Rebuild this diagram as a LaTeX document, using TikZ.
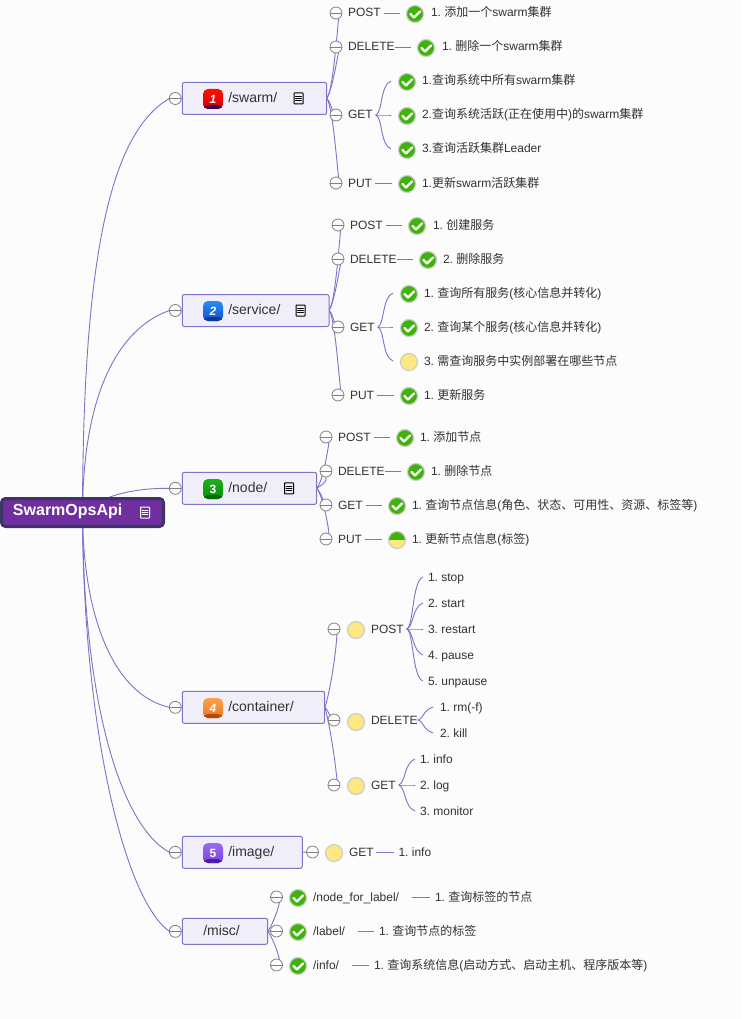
\documentclass[tikz,border=0pt]{standalone}
\usepackage{fontspec}
\setmainfont{Liberation Sans}
\newfontfamily\cjk{Noto Sans CJK SC}
\newcommand\zh[1]{{\cjk #1}}
\usetikzlibrary{backgrounds}

\definecolor{linkcol}{RGB}{125,115,200}
\definecolor{boxfill}{RGB}{240,238,248}
\definecolor{paper}{RGB}{252,252,252}
\definecolor{okgreen}{RGB}{62,179,10}
\definecolor{todoyellow}{RGB}{255,231,130}
\definecolor{halo}{RGB}{205,205,205}
\definecolor{inkcol}{RGB}{50,50,50}
\definecolor{rootline}{RGB}{60,52,100}
\definecolor{rootfill}{RGB}{112,47,158}

\begin{document}
\begin{tikzpicture}
  [
    x=1pt, y=-1pt,
    line cap=round, line join=round,
    font=\fontsize{12}{14}\selectfont\frenchspacing,
    link/.style={draw=linkcol, line width=.9pt},
    txt/.style={anchor=west, inner sep=0pt, outer sep=0pt, text height=10pt, text depth=2pt, text=inkcol},
    topic/.style={draw=linkcol, fill=boxfill, line width=1pt, rounded corners=2pt, anchor=west,
      inner sep=0pt, outer sep=0pt, text height=10pt, text depth=2pt, text=inkcol,
      font=\fontsize{14}{16}\selectfont},
    rootbox/.style={draw=rootline, fill=rootfill, line width=3pt, rounded corners=4pt,
      inner sep=0pt, outer sep=0pt, minimum width=162pt, minimum height=28pt,
      text height=10pt, text depth=4pt, text=white, font=\fontsize{16}{18}\selectfont\bfseries},
    collapse/.style={circle, draw=gray, fill=paper, line width=.8pt, minimum size=12pt,
      inner sep=0pt, outer sep=0pt,
      path picture={\draw[gray, line width=.8pt] (path picture bounding box.west) -- (path picture bounding box.east);}},
    status/.style={circle, draw=halo, line width=1.2pt, minimum size=17pt, inner sep=0pt, outer sep=0pt},
    check/.style={status, fill=okgreen,
      path picture={\draw[white, line width=2.4pt] ([xshift=-4.5pt]path picture bounding box.center) -- ++(3.5,3.5) -- ++(6,-6);}},
    todo/.style={status, fill=todoyellow},
    half/.style={status, fill=todoyellow,
      path picture={\fill[okgreen] (path picture bounding box.north west) rectangle (path picture bounding box.east);}},
    note/.style={draw=#1, line width=1pt, rounded corners=.5pt, minimum width=9pt, minimum height=11pt,
      inner sep=0pt, outer sep=0pt,
      path picture={\foreach \k in {-2.2,0,2.2} \draw[#1, line width=.8pt] ([xshift=-3pt,yshift=\k pt]path picture bounding box.center) -- ++(6,0);}},
    badge/.style n args={3}{rounded corners=5pt, minimum size=20pt, inner sep=0pt, outer sep=0pt,
      top color=#1, bottom color=#2, text=white, font=\fontsize{12}{14}\selectfont\bfseries,
      path picture={\fill[#3] ([yshift=4pt]path picture bounding box.south west) rectangle (path picture bounding box.south east);}},
  ]

\useasboundingbox (0,0) rectangle (742,1019);

% topic box: name, y, width, height, left pad, text
\newcommand\topicbox[6]{
  \node[topic, minimum height=#4pt] (#1) at (182.3,#2) {\makebox[#3pt][l]{\hspace*{#5pt}#6}};
  \node[collapse] (#1c) at (175.3,#2) {};
}
% method row: name, circle x, text x, y, text
\newcommand\method[5]{
  \node[collapse] (#1c) at (#2,#4) {};
  \node[txt] (#1) at (#3,#4) {#5};
}
% result row: name, icon style, icon x, y, text x, text (icon sits 1 lower)
\newcommand\hit[6]{
  \node[#2] (#1i) at (#3,#4+1) {};
  \node[txt] (#1) at (#5,#4) {#6};
}
\newcommand\swoop[4]{\draw[link] (#1) .. controls +(#3) and +(#4) .. (#2);}
\newcommand\fork[3]{\draw[link] (#1) .. controls +(7,#3*2) and +(-11,#3*-4) .. (#2);}
\newcommand\stem[4]{\draw[link, shorten <=#3pt, shorten >=#4pt] (#1.east) -- (#1.east -| #2.west);}

\node[rootbox] (root) at (82.5,512.5) {\makebox[162pt][l]{\hspace*{11.5pt}SwarmOpsApi}};
\node[note=white] (rootnote) at (145,512.5) {};

% /swarm/
\topicbox{swarm}{98.5}{144.4}{32}{46}{/swarm/}
\node[badge={red!90!orange}{red!85!black}{red!45!blue!60!black}] (swarmbadge) at (213,99) {\itshape 1};
\node[note=black] (swarmnote) at (298.5,98.5) {};
\method{swpost}{336}{348}{13}{POST}
\method{swdel}{336}{348}{47}{DELETE}
\method{swget}{336}{348}{115}{GET}
\method{swput}{336}{348}{183}{PUT}
\hit{swadd}{check}{415}{13}{431}{1. \zh{添加一个}swarm\zh{集群}}
\hit{swrm}{check}{426}{47}{442}{1. \zh{删除一个}swarm\zh{集群}}
\hit{swall}{check}{407}{81}{422}{1.\zh{查询系统中所有}swarm\zh{集群}}
\hit{swact}{check}{407}{115}{422}{2.\zh{查询系统活跃}(\zh{正在使用中})\zh{的}swarm\zh{集群}}
\hit{swlead}{check}{407}{149}{422}{3.\zh{查询活跃集群}Leader}
\hit{swset}{check}{407}{183}{422}{1.\zh{更新}swarm\zh{活跃集群}}

% /service/
\topicbox{service}{310.5}{146.7}{32}{46}{/service/}
\definecolor{bluetop}{RGB}{42,140,240}
\definecolor{bluelow}{RGB}{16,80,208}
\definecolor{blueband}{RGB}{10,58,160}
\node[badge={bluetop}{bluelow}{blueband}] (servicebadge) at (213,311) {\itshape 2};
\node[note=black] (servicenote) at (300.5,310.5) {};
\method{sepost}{338}{350}{225}{POST}
\method{sedel}{338}{350}{259}{DELETE}
\method{seget}{338}{350}{327}{GET}
\method{seput}{338}{350}{395}{PUT}
\hit{seadd}{check}{417}{225}{433}{1. \zh{创建服务}}
\hit{serm}{check}{428}{259}{443}{2. \zh{删除服务}}
\hit{seall}{check}{409}{293}{424}{1. \zh{查询所有服务}(\zh{核心信息并转化})}
\hit{seone}{check}{409}{327}{424}{2. \zh{查询某个服务}(\zh{核心信息并转化})}
\hit{sewhere}{todo}{409}{361}{424}{3. \zh{需查询服务中实例部署在哪些节点}}
\hit{seset}{check}{409}{395}{424}{1. \zh{更新服务}}

% /node/
\topicbox{node}{488.3}{134.4}{32}{46}{/node/}
\definecolor{greentop}{RGB}{31,174,31}
\definecolor{greenlow}{RGB}{10,143,10}
\definecolor{greenband}{RGB}{5,107,5}
\node[badge={greentop}{greenlow}{greenband}] (nodebadge) at (213,489) {3};
\node[note=black] (nodenote) at (289,488.3) {};
\method{nopost}{326}{338}{437}{POST}
\method{nodel}{326}{338}{471}{DELETE}
\method{noget}{326}{338}{505}{GET}
\method{noput}{326}{338}{539}{PUT}
\hit{noadd}{check}{405}{437}{420}{1. \zh{添加节点}}
\hit{norm}{check}{416}{471}{431}{1. \zh{删除节点}}
\hit{noinfo}{check}{397}{505}{412}{1. \zh{查询节点信息}(\zh{角色、状态、可用性、资源、标签等})}
\hit{noset}{half}{397}{539}{412}{1. \zh{更新节点信息}(\zh{标签})}

% /container/
\topicbox{container}{707.3}{142.4}{32}{46}{/container/}
\definecolor{orangetop}{RGB}{255,160,74}
\definecolor{orangelow}{RGB}{232,120,32}
\definecolor{orangeband}{RGB}{176,76,8}
\node[badge={orangetop}{orangelow}{orangeband}] (containerbadge) at (213,708) {\itshape 4};
\method{copost}{334}{371}{629}{POST}
\method{codel}{334}{371}{720}{DELETE}
\method{coget}{334}{371}{785}{GET}
\node[todo] (copostv) at (356,630) {};
\node[todo] (codelv) at (356,722) {};
\node[todo] (cogetv) at (356,786) {};
\node[txt] (costop) at (428,577) {1. stop};
\node[txt] (costart) at (428,603) {2. start};
\node[txt] (corestart) at (428,629) {3. restart};
\node[txt] (copause) at (428,655) {4. pause};
\node[txt] (counpause) at (428,681) {5. unpause};
\node[txt] (corm) at (440,707) {1. rm(-f)};
\node[txt] (cokill) at (440,733) {2. kill};
\node[txt] (coinfo) at (420,759) {1. info};
\node[txt] (colog) at (420,785) {2. log};
\node[txt] (comon) at (420,811) {3. monitor};

% /image/
\topicbox{image}{852.3}{120}{32}{46}{/image/}
\definecolor{purpletop}{RGB}{154,108,240}
\definecolor{purplelow}{RGB}{122,64,224}
\definecolor{purpleband}{RGB}{74,29,176}
\node[badge={purpletop}{purplelow}{purpleband}] (imagebadge) at (213,853) {5};
\method{imget}{312.5}{349}{852}{GET}
\node[todo] (imgetv) at (334,853) {};
\node[txt] (iminfo) at (398.5,852) {1. info};

% /misc/
\topicbox{misc}{931.3}{85.4}{26}{21}{/misc/}
\method{minode}{276.5}{313}{897}{/node\_for\_label/}
\method{milabel}{276.5}{313}{931}{/label/}
\method{miinfo}{276.5}{313}{965}{/info/}
\node[check] (minodev) at (298,898) {};
\node[check] (milabelv) at (298,932) {};
\node[check] (miinfov) at (298,966) {};
\node[txt] (minodeq) at (435,897) {1. \zh{查询标签的节点}};
\node[txt] (milabelq) at (379,931) {1. \zh{查询节点的标签}};
\node[txt] (miinfoq) at (374,965) {1. \zh{查询系统信息}(\zh{启动方式、启动主机、程序版本等})};

\begin{scope}[on background layer]
  \fill[paper] (0,0) rectangle (742,1019);

  % trunk
  \draw[link] (root.center) .. controls (83,250) and (112,132) .. (swarmc.west);
  \draw[link] (root.center) .. controls (83,400) and (115,330) .. (servicec.west);
  \draw[link] (root.center) .. controls (100,497) and (130,488) .. (nodec.west);
  \draw[link] (root.center) .. controls (83,620) and (115,695) .. (containerc.west);
  \draw[link] (root.center) .. controls (83,700) and (120,825) .. (imagec.west);
  \draw[link] (root.center) .. controls (83,730) and (125,900) .. (miscc.west);

  % /swarm/ links
  \swoop{swarm.east}{swpostc.-65}{5,-6}{-3,35}
  \swoop{swarm.east}{swdelc.-65}{5,-8}{-3,15}
  \swoop{swarm.east}{swgetc.125}{3,2}{-2,-4}
  \swoop{swarm.east}{swputc.65}{5,5}{-3,-30}
  \stem{swpost}{swaddi}{3}{6.5}
  \stem{swdel}{swrmi}{0}{6.5}
  \stem{swput}{swseti}{3}{6.5}
  \fork{[xshift=3pt]swget.east}{[xshift=-7.5pt,yshift=1pt]swalli.west}{-1}
  \fork{[xshift=3pt]swget.east}{[xshift=-7.5pt,yshift=1pt]swacti.west}{0}
  \fork{[xshift=3pt]swget.east}{[xshift=-7.5pt,yshift=1pt]swleadi.west}{1}

  % /service/ links
  \swoop{service.east}{sepostc.-65}{5,-6}{-3,35}
  \swoop{service.east}{sedelc.-65}{5,-8}{-3,15}
  \swoop{service.east}{segetc.125}{3,2}{-2,-4}
  \swoop{service.east}{seputc.65}{5,5}{-3,-30}
  \stem{sepost}{seaddi}{3}{6.5}
  \stem{sedel}{sermi}{0}{6.5}
  \stem{seput}{seseti}{3}{6.5}
  \fork{[xshift=3pt]seget.east}{[xshift=-7.5pt,yshift=1pt]sealli.west}{-1}
  \fork{[xshift=3pt]seget.east}{[xshift=-7.5pt,yshift=1pt]seonei.west}{0}
  \fork{[xshift=3pt]seget.east}{[xshift=-7.5pt,yshift=1pt]sewherei.west}{1}

  % /node/ links
  \swoop{node.east}{nopostc.-60}{5,-6}{-3,20}
  \swoop{node.east}{nodelc.-90}{3,-2}{2,5}
  \swoop{node.east}{nogetc.120}{2,2}{-1,-4}
  \swoop{node.east}{noputc.60}{4,4}{-2,-18}
  \stem{nopost}{noaddi}{3}{6.5}
  \stem{nodel}{normi}{0}{6.5}
  \stem{noget}{noinfoi}{3}{6.5}
  \stem{noput}{noseti}{3}{6.5}

  % /container/ links
  \swoop{container.east}{copostc.-60}{3,-6}{-2,30}
  \swoop{container.east}{codelc.130}{2,1}{-2,-3}
  \swoop{container.east}{cogetc.60}{3,8}{-3,-30}
  \fork{[xshift=3pt]copost.east}{[xshift=-5pt]costop.west}{-1}
  \fork{[xshift=3pt]copost.east}{[xshift=-5pt]costart.west}{-1}
  \fork{[xshift=3pt]copost.east}{[xshift=-5pt]corestart.west}{0}
  \fork{[xshift=3pt]copost.east}{[xshift=-5pt]copause.west}{1}
  \fork{[xshift=3pt]copost.east}{[xshift=-5pt]counpause.west}{1}
  \fork{codel.east}{[xshift=-7pt]corm.west}{-1}
  \fork{codel.east}{[xshift=-7pt]cokill.west}{1}
  \fork{[xshift=3pt]coget.east}{[xshift=-5pt]coinfo.west}{-1}
  \fork{[xshift=3pt]coget.east}{[xshift=-5pt]colog.west}{0}
  \fork{[xshift=3pt]coget.east}{[xshift=-5pt]comon.west}{1}

  % /image/ links
  \draw[link] (image.east) -- (imgetc.west);
  \stem{imget}{iminfo}{2.5}{5}

  % /misc/ links
  \swoop{misc.east}{minodec.-60}{3,-3}{-2,10}
  \draw[link] (misc.east) -- (milabelc.west);
  \swoop{misc.east}{miinfoc.60}{3,3}{-2,-10}
  \stem{minode}{minodeq}{12.5}{5}
  \stem{milabel}{milabelq}{12.5}{5}
  \stem{miinfo}{miinfoq}{12.5}{5}
\end{scope}

\end{tikzpicture}
\end{document}
